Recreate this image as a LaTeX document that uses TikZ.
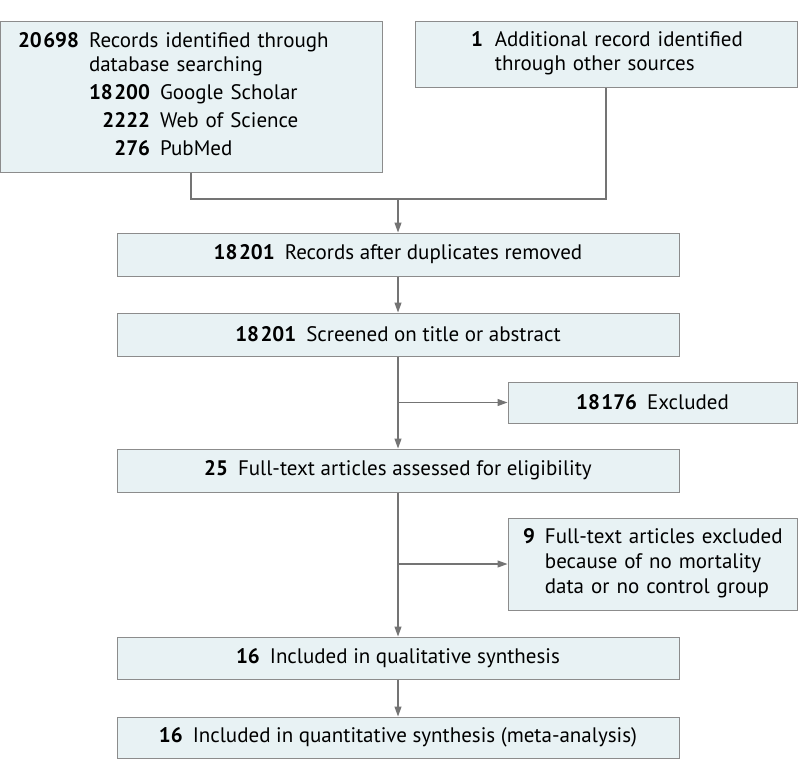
\documentclass[tikz,border=0pt]{standalone}
\usepackage{fontspec}
\setmainfont{PT Sans}
\usetikzlibrary{arrows.meta}
\definecolor{boxfill}{HTML}{E8F2F4}
\definecolor{boxline}{HTML}{8C8C8C}
\definecolor{arrowgray}{HTML}{747474}
\newcommand{\tally}[2]{\textbf{#1}\hspace{10pt}#2}
\newcommand{\thsep}{\hspace{1.5pt}}
\tikzset{
    flowbox/.style={draw=boxline, fill=boxfill, line width=1pt, inner sep=0pt,
        font=\fontsize{21}{24}\selectfont},
    wide/.style={flowbox, minimum width=562pt, minimum height=43pt},
    side/.style={flowbox, minimum width=289pt, minimum height=41pt},
    link/.style={draw=arrowgray, line width=1.2pt},
    flow/.style={link, -{Triangle[length=10pt, width=7pt]}}
}
\begin{document}
\begin{tikzpicture}[x=1pt, y=-1pt]
    \useasboundingbox (0,0) rectangle (798,780);
    % sources
    \node[flowbox, text width=346pt, inner xsep=18pt, minimum height=151pt, align=left] (db) at (191,96.5)
        {\begin{tabular}{@{}r@{\hspace{10pt}}l@{}}
            \textbf{20\thsep698} & Records identified through\\
            & database searching\\[4pt]
            & \begin{tabular}[t]{@{}r@{\hspace{10pt}}l@{}}
                \textbf{18\thsep200} & Google Scholar\\[4pt]
                \textbf{2222} & Web of Science\\[4pt]
                \textbf{276} & PubMed
              \end{tabular}
         \end{tabular}};
    \node[flowbox, text width=270pt, inner xsep=56pt, minimum height=66pt, align=left] (other) at (606,54)
        {\begin{tabular}{@{}r@{\hspace{12pt}}l@{}}
            \textbf{1} & Additional record identified\\
            & through other sources
         \end{tabular}};
    \coordinate (merge) at (398,199);
    % main column
    \node[wide] (dedup) at (398,254.5) {\tally{18\thsep201}{Records after duplicates removed}};
    \node[wide] (screen) at (398,334.5) {\tally{18\thsep201}{Screened on title or abstract}};
    \node[wide] (full) at (398,470.5) {\tally{25}{Full-text articles assessed for eligibility}};
    \node[wide, minimum height=42pt] (qual) at (398,658) {\tally{16}{Included in qualitative synthesis}};
    \node[wide, minimum height=41pt] (quant) at (398,737.5) {\tally{16}{Included in quantitative synthesis (meta-analysis)}};
    % exclusions
    \node[side] (excl) at (652.5,402.5) {\tally{18\thsep176}{Excluded}};
    \node[flowbox, text width=259pt, inner xsep=15pt, minimum height=92pt, align=left] (exclfull) at (652.5,564)
        {\begin{tabular}{@{}r@{\hspace{10pt}}l@{}}
            \textbf{9} & Full-text articles excluded\\[1pt]
            & because of no mortality\\[1pt]
            & data or no control group
         \end{tabular}};
    % connectors
    \draw[link] (db.south) |- (merge) -| (other.south);
    \draw[flow] (merge) -- (dedup.north);
    \draw[flow] (dedup) -- (screen);
    \draw[flow] (screen) -- (full);
    \draw[flow] (screen.south |- excl.west) -- (excl.west);
    \draw[flow] (full) -- (qual);
    \draw[flow] (full.south |- exclfull.west) -- (exclfull.west);
    \draw[flow] (qual) -- (quant);
\end{tikzpicture}
\end{document}
